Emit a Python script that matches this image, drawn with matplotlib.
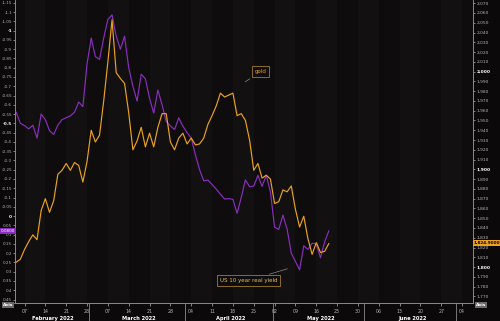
import matplotlib.pyplot as plt
import matplotlib.transforms as mtransforms
import numpy as np

# trading-day index 0 = Mon 7 Feb 2022, series start Thu 3 Feb (index -2)
start_idx = -2

gold = [1805, 1808, 1818, 1826, 1833, 1828, 1858, 1870, 1856, 1868,
        1895, 1899, 1906, 1899, 1907, 1904, 1887, 1908, 1940, 1928,
        1935, 1970, 2010, 2053, 1999, 1993, 1988, 1958, 1920, 1929,
        1943, 1923, 1937, 1923, 1943, 1957, 1957, 1928, 1920, 1932,
        1937, 1926, 1932, 1925, 1926, 1932, 1946, 1955, 1965, 1978,
        1974, 1976, 1978, 1955, 1957, 1950, 1930, 1899, 1906, 1891,
        1894, 1890, 1865, 1867, 1879, 1877, 1883, 1859, 1841, 1852,
        1829, 1813, 1825, 1815, 1816, 1824]

real_yield = [-0.56, -0.50, -0.488, -0.47, -0.49, -0.42, -0.55, -0.52, -0.46, -0.44,
              -0.49, -0.52, -0.53, -0.54, -0.56, -0.615, -0.59, -0.82, -0.96, -0.86,
              -0.845, -0.96, -1.06, -1.085, -0.97, -0.90, -0.97, -0.80, -0.70, -0.62,
              -0.765, -0.74, -0.635, -0.555, -0.68, -0.60, -0.51, -0.487, -0.466, -0.53,
              -0.485, -0.45, -0.42, -0.33, -0.25, -0.19, -0.194, -0.17, -0.145, -0.118,
              -0.092, -0.094, -0.09, -0.015, -0.10, -0.195, -0.158, -0.162, -0.22, -0.16,
              -0.22, -0.13, 0.06, 0.072, -0.005, 0.07, 0.20, 0.245, 0.29, 0.16,
              0.18, 0.147, 0.15, 0.225, 0.14, 0.08]

week_labels = ["07", "14", "21", "28", "07", "14", "21", "28", "04", "11", "18", "25",
               "02", "09", "16", "23", "30", "06", "13", "20", "27", "04"]
months = ["February 2022", "March 2022", "April 2022", "May 2022", "June 2022"]
month_starts = [16, 39, 60, 82, 104]   # trading-day index of 1st business day

yield_ticks = np.round(np.arange(-1.15, 0.451, 0.05), 2)
gold_ticks = np.arange(1770, 2071, 10)

GOLD = '#eba21e'
PURPLE = '#8b2ec0'
TXT = '#b4b4b4'
BG = '#0b0909'

x = np.arange(start_idx, start_idx + len(gold))
xmin, xmax = -2.4, 107.6

fig = plt.figure(figsize=(5, 3.21), dpi=100, facecolor=BG)
ax = fig.add_axes([0.029, 0.056, 0.917, 0.944])
ax.set_facecolor('#0f0d0d')

# faint weekly stripes
for k, w in enumerate(range(-5, 110, 5)):
    c = '#121010' if k % 2 else '#0e0c0c'
    ax.axvspan(w, w + 5, color=c, lw=0, zorder=0)

ax.plot(x, real_yield, color=PURPLE, lw=0.85, zorder=3)
ax.set_xlim(xmin, xmax)
ax.set_ylim(0.469, -1.165)

ax2 = ax.twinx()
ax2.plot(x, gold, color=GOLD, lw=0.85, zorder=4)
ax2.set_ylim(1763.2, 2073.3)
ax2.set_xlim(xmin, xmax)

for a in (ax, ax2):
    for s in a.spines.values():
        s.set_color('#8a8a8a')
        s.set_linewidth(0.6)
    a.spines['top'].set_visible(False)

ax.set_yticks(yield_ticks)
ax.set_yticklabels(['%g' % v for v in yield_ticks])
ax.tick_params(axis='y', labelsize=3.0, colors=TXT, length=1.2, width=0.5, pad=0.5)
for lab, v in zip(ax.get_yticklabels(), yield_ticks):
    if v in (-1.0, -0.5, 0.0):
        lab.set_fontweight('bold')
        lab.set_color('white')

ax2.set_yticks(gold_ticks)
ax2.set_yticklabels(['{:,}'.format(v) for v in gold_ticks])
ax2.tick_params(axis='y', labelsize=3.2, colors=TXT, length=1.5, width=0.5, pad=1)
for lab, v in zip(ax2.get_yticklabels(), gold_ticks):
    if v % 100 == 0:
        lab.set_fontweight('bold')
        lab.set_color('white')

ax.set_xticks(np.arange(0, 5 * len(week_labels), 5))
ax.set_xticklabels(week_labels)
ax.tick_params(axis='x', labelsize=3.4, colors=TXT, length=2, width=0.5, pad=2)

# month separators and labels
trans = mtransforms.blended_transform_factory(ax.transData, ax.transAxes)
for m in month_starts:
    ax.plot([m - 0.5, m - 0.5], [0, -0.06], color='#8a8a8a', lw=0.6,
            transform=trans, clip_on=False)
edges = [xmin] + month_starts
for name, a, b in zip(months, edges[:-1], edges[1:]):
    ax.text((a + b) / 2, -0.05, name, transform=trans, ha='center', va='center',
            fontsize=3.7, color='white', fontweight='bold')

# annotations
ax2.annotate('gold', xy=(52.4, 1988), xytext=(56.6, 2000), fontsize=4.0,
             color=GOLD, ha='center', va='center', zorder=6,
             bbox=dict(boxstyle='square,pad=0.5', fc='#0f0d0d', ec='#a07a2a', lw=0.6),
             arrowprops=dict(arrowstyle='-', color='#8a8a8a', lw=0.5))
ax.annotate('US 10 year real yield', xy=(63.7, 0.28), xytext=(53.7, 0.348),
            fontsize=4.0, color='#e6c05a', ha='center', va='center', zorder=6,
            bbox=dict(boxstyle='square,pad=0.5', fc='#0f0d0d', ec='#a07a2a', lw=0.6),
            arrowprops=dict(arrowstyle='-', color='#8a8a8a', lw=0.5))

# last-value tags
fig.text(0.001, 1 - 231 / 321, '0.0800', fontsize=3.0, color='white', va='center',
         bbox=dict(boxstyle='square,pad=0.2', fc=PURPLE, ec='none'))
fig.text(0.948, 1 - 243 / 321, '1,824.9000', fontsize=3.0, color='black', va='center',
         fontweight='bold', bbox=dict(boxstyle='square,pad=0.2', fc=GOLD, ec='none'))

for xf in (0.006, 0.952):
    fig.text(xf, 1 - 305 / 321, 'Axis', fontsize=3.2, color='white', va='center',
             fontweight='bold', bbox=dict(boxstyle='square,pad=0.2', fc='#6a6a6a', ec='none'))

fig.savefig('out.png', dpi=100, facecolor=BG)
